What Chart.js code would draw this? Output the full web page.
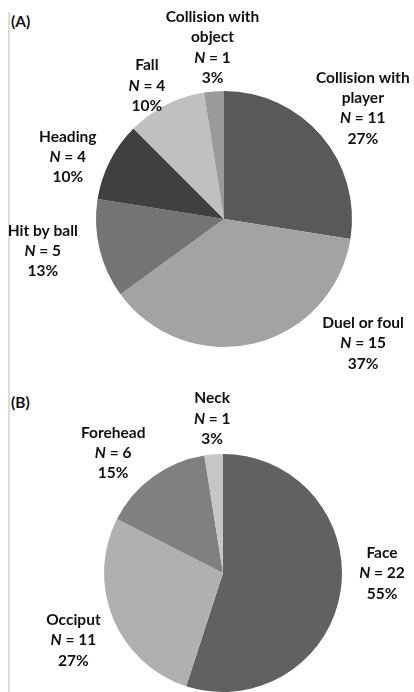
<!DOCTYPE html>
<html>
<head>
<meta charset="utf-8">
<script src="https://cdn.jsdelivr.net/npm/chart.js@4"></script>
<style>
  body { margin: 0; background: #fff; }
  #page { position: relative; width: 414px; height: 692px; overflow: hidden; font-family: Lato, "Open Sans", sans-serif; }
  .frame { position: absolute; left: 8px; top: 12px; width: 2px; height: 690px; background: #dcdcdc; }
  .tag { position: absolute; left: 11px; font: bold 15.5px Lato, sans-serif; color: #111; }
  #boxA { position: absolute; left: 0; top: 0; width: 414px; height: 380px; }
  #boxB { position: absolute; left: 0; top: 380px; width: 414px; height: 312px; }
</style>
</head>
<body>
<div id="page">
  <div class="frame"></div>
  <div class="tag" style="top:12px">(A)</div>
  <div class="tag" style="top:393px">(B)</div>
  <div id="boxA"><canvas id="chartA"></canvas></div>
  <div id="boxB"><canvas id="chartB"></canvas></div>
</div>
<script>
// (A) cause of injury
var causeLabels = [["Collision with", "player"], ["Duel or foul"], ["Hit by ball"], ["Heading"], ["Fall"], ["Collision with", "object"]];
var causeCounts = [11, 15, 5, 4, 4, 1];
var causePct = [27, 37, 13, 10, 10, 3];
var causeColors = ["#595959", "#a3a3a3", "#747474", "#404040", "#c0c0c0", "#9a9a9a"];

// (B) location of impact
var siteLabels = [["Face"], ["Occiput"], ["Forehead"], ["Neck"]];
var siteCounts = [22, 11, 6, 1];
var sitePct = [55, 27, 15, 3];
var siteColors = ["#616161", "#b0b0b0", "#808080", "#c6c6c6"];

// label nudges (px) from the default outside position
var nudgeA = [[8, 1], [99, -43], [-14, -8], [-3, 16], [1, 20], [2, 0]];
var nudgeB = [[-2, -25], [1, 5], [-14, 12], [2, 8]];

var FONT = "Lato, sans-serif";
var SIZE = "15.5px ";

function outsideLabels(pct, nudge) {
  return {
    id: "outsideLabels",
    afterDraw: function (chart) {
      var ctx = chart.ctx;
      var meta = chart.getDatasetMeta(0);
      var counts = chart.data.datasets[0].data;
      ctx.save();
      ctx.fillStyle = "#111";
      ctx.textBaseline = "middle";
      meta.data.forEach(function (arc, i) {
        var p = arc.getProps(["x", "y", "startAngle", "endAngle", "outerRadius"], true);
        var mid = (p.startAngle + p.endAngle) / 2;
        var d = p.outerRadius + 44;
        var cx = p.x + Math.cos(mid) * d + nudge[i][0];
        var cy = p.y + Math.sin(mid) * d + nudge[i][1];
        var lines = chart.data.labels[i].slice();
        lines.push("N");
        lines.push(pct[i] + "%");
        var lh = 20.3;
        var y0 = cy - (lines.length - 1) * lh / 2;
        lines.forEach(function (t, k) {
          var y = y0 + k * lh;
          if (t === "N") {
            ctx.font = "italic bold " + SIZE + FONT;
            var w1 = ctx.measureText("N").width;
            ctx.font = "bold " + SIZE + FONT;
            var rest = " = " + counts[i];
            var w2 = ctx.measureText(rest).width;
            var x = cx - (w1 + w2) / 2;
            ctx.textAlign = "left";
            ctx.font = "italic bold " + SIZE + FONT;
            ctx.fillText("N", x, y);
            ctx.font = "bold " + SIZE + FONT;
            ctx.fillText(rest, x + w1, y);
          } else {
            ctx.font = "bold " + SIZE + FONT;
            ctx.textAlign = "center";
            ctx.fillText(t, cx, y);
          }
        });
      });
      ctx.restore();
    }
  };
}

function makePie(id, labels, counts, colors, pct, nudge, pad) {
  return new Chart(document.getElementById(id), {
    type: "pie",
    data: {
      labels: labels,
      datasets: [{ data: counts, backgroundColor: colors, borderWidth: 0 }]
    },
    options: {
      responsive: true,
      maintainAspectRatio: false,
      animation: false,
      layout: { padding: pad },
      plugins: { legend: { display: false }, tooltip: { enabled: false } }
    },
    plugins: [outsideLabels(pct, nudge)]
  });
}

makePie("chartA", causeLabels, causeCounts, causeColors, causePct, nudgeA, { left: 96, right: 62, top: 91, bottom: 33 });
makePie("chartB", siteLabels, siteCounts, siteColors, sitePct, nudgeB, { left: 104, right: 72, top: 74, bottom: 0 });
</script>
</body>
</html>
